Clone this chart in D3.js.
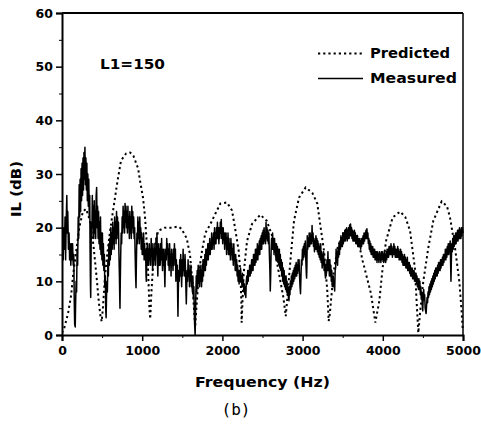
<!DOCTYPE html>
<html>
<head>
<meta charset="utf-8">
<script src="https://cdn.jsdelivr.net/npm/d3@7"></script>
<style>
  body { margin: 0; background: #fff; }
  svg { display: block; }
</style>
</head>
<body>
<svg id="chart" width="481" height="430"></svg>
<script>
// ==================
// DATA (read by eye)
// ==================
var xTicks = [0, 1000, 2000, 3000, 4000, 5000];
var yTicks = [0, 10, 20, 30, 40, 50, 60];
var seriesNames = ["Predicted", "Measured"];

// predicted IL, [Hz, dB]
var predicted = [
  [0,0.4],[30,1.4],[75,4],[115,7.5],[140,11.4],[178,15.7],[215,20],[260,23],[300,23.5],[345,21.5],
  [390,17],[430,11],[460,6],[480,3.5],[495,2.5],[510,5],[536,11],[560,14.5],[600,19.5],[640,23.5],
  [690,28.5],[736,32.5],[798,33.8],[850,34],[890,33.4],[950,31],[970,29],[1010,25.6],[1035,22],[1055,17.5],
  [1075,11.4],[1090,5],[1100,3],[1115,8],[1140,14],[1170,17.5],[1200,19.4],[1280,20],[1368,20],[1450,20.2],
  [1490,19.8],[1555,18],[1596,15],[1625,10],[1645,5],[1660,1.5],[1680,6],[1700,10],[1720,13],[1746,15.7],
  [1787,19],[1845,20.5],[1912,22.6],[1975,24.5],[2057,24.7],[2120,23.2],[2157,20],[2203,15.7],[2225,11.4],[2236,6.4],
  [2240,2.3],[2250,6],[2265,11.4],[2307,17.5],[2370,20.7],[2473,22.4],[2552,21.3],[2620,18.5],[2677,13.8],[2760,7],
  [2790,3.5],[2810,7],[2851,14.4],[2893,21.3],[2955,25.6],[3038,27.5],[3121,26.5],[3183,24.5],[3225,20],[3267,15.7],
  [3308,8.2],[3325,2.6],[3340,4],[3354,6.4],[3390,12],[3440,16.5],[3520,19.5],[3600,20],[3680,18.5],[3749,13.8],
  [3790,11.4],[3853,7.7],[3907,2.3],[3957,6.4],[3998,12.5],[4040,17.5],[4123,21.9],[4215,23],[4280,22],[4340,19.4],
  [4400,12.5],[4430,3.9],[4443,0.4],[4470,5],[4505,10],[4568,16.3],[4630,21.3],[4734,24.9],[4800,24],[4838,21.9],
  [4900,16.3],[4954,10],[4980,5],[4996,1.1]
];

// measured IL, [Hz, dB]
var measured = [
  [0,13],[8,17],[15,14],[22,20],[30,16],[38,22],[45,14],[52,21],[60,26],[66,19],[72,23],[80,16],[88,19],[95,14],[102,17],
  [110,13],[118,17],[125,14],[132,17],[140,13],[147,15],[153,6],[158,2],[165,1.5],[170,6],[176,10],[182,8],[188,16],[195,13],
  [202,22],[208,18],[214,28],[220,22],[226,29],[232,23],[238,31],[244,25],[250,32],[256,26],[262,33],[268,27],[274,34],
  [280,29],[286,35],[292,28],[298,33],[304,27],[310,32],[316,25],[322,30],[328,24],[334,29],[340,22],[346,26],[350,16],
  [355,9],[358,7],[362,14],[366,21],[372,18],[378,26],[384,20],[390,24],[396,18],[402,25],[408,19],[414,23],[420,18],
  [426,26],[432,27.5],[438,20],[444,24],[450,18],[456,23],[462,17],[468,21],[474,16],[480,22],[486,15],[492,19],[498,14],
  [504,19],[510,13],[516,17],[522,12],[528,15],[534,9],[540,11],[545,5],[550,3.2],[555,7],[560,10],[566,8],[572,14],
  [578,11],[584,17],[590,13],[596,18],[602,14],[608,20],[614,15],[620,19],[626,16],[632,21],[638,17],[644,20],[650,16],
  [656,22],[662,18],[668,21],[674,17],[680,23],[686,18],[692,22],[698,19],[704,21],[710,15],[716,11],[720,7],[723,5],
  [727,10],[732,15],[738,19],[744,17],[750,22],[756,19],[762,24],[768,20],[774,23],[780,19],[786,24.5],[792,21],[798,24],
  [804,20],[810,23],[816,19],[822,24],[828,20],[834,22],[840,18],[846,23],[852,19],[858,22],[864,18],[870,24],[876,20],
  [882,23],[888,19],[894,22],[900,18],[906,20],[912,15],[918,11],[923,8.8],[928,14],[934,19],[940,17],[946,22],[952,18],
  [958,21],[964,17],[970,22],[976,18],[982,20],[988,16],[994,19],[1000,15],[1006,18],[1012,15],[1018,19],[1024,14],[1030,17],
  [1036,14],[1042,16],[1048,11],[1052,10],[1058,15],[1064,17],[1070,13],[1076,16],[1082,13],[1088,17],[1094,14],[1100,16],
  [1106,13],[1112,18],[1118,15],[1124,17],[1130,12],[1136,16],[1142,13],[1148,17],[1154,14],[1160,16],[1166,13],[1172,18],
  [1178,15],[1184,19],[1190,14],[1195,11],[1200,15],[1206,17],[1212,13],[1218,16],[1224,13],[1230,17],[1236,14],[1242,18],
  [1248,14],[1254,12],[1260,16],[1266,13],[1272,16],[1278,12],[1283,9],[1288,13],[1294,16],[1300,14],[1306,18],[1312,15],
  [1318,17],[1324,13],[1330,16],[1336,12],[1342,17],[1348,13],[1354,15],[1360,11],[1366,16],[1372,13],[1378,15],[1384,12],
  [1390,16],[1396,13],[1402,17],[1408,14],[1414,16],[1420,10],[1426,14],[1432,11],[1438,13],[1443,6],[1446,3.5],[1450,8],
  [1456,12],[1462,10],[1468,14],[1474,11],[1480,15],[1486,12],[1492,9],[1498,14],[1504,11],[1510,16],[1516,12],[1522,14],
  [1528,11],[1534,15],[1540,12],[1546,8],[1550,5.8],[1555,9],[1560,12],[1566,10],[1572,14],[1578,11],[1584,13],[1590,9],
  [1596,12],[1602,10],[1608,13],[1614,9],[1620,11],[1626,8],[1632,11],[1638,7],[1644,9],[1650,4],[1655,1.5],[1660,0],
  [1664,3],[1668,7],[1674,11],[1680,8],[1686,12],[1692,9],[1698,13],[1704,10],[1710,12],[1716,9],[1722,13],[1728,10],
  [1734,12],[1740,9],[1746,13],[1752,10],[1758,14],[1764,11],[1770,14],[1776,12],[1782,15],[1788,12],[1794,16],[1800,13],
  [1806,16],[1812,14],[1818,17],[1824,14],[1830,17],[1836,15],[1842,18],[1848,15],[1854,17],[1860,16],[1866,19],[1872,16],
  [1878,18],[1884,17],[1890,19],[1896,16],[1902,20],[1908,17],[1914,19],[1920,17],[1926,20],[1932,18],[1938,21],[1944,18],
  [1950,20],[1956,17],[1962,20],[1968,18],[1974,21],[1980,19],[1986,21.5],[1992,18],[1998,20],[2004,17],[2010,20],[2016,18],
  [2022,19],[2028,16],[2034,19],[2040,17],[2046,19],[2052,15],[2058,18],[2064,16],[2070,19],[2076,15],[2082,18],[2088,15],
  [2094,17],[2100,14],[2106,18],[2112,15],[2118,17],[2124,14],[2130,16],[2136,13],[2142,17],[2148,14],[2154,15],[2160,12],
  [2166,15],[2172,12],[2178,14],[2184,11],[2190,13],[2196,10],[2202,12],[2208,9.5],[2214,12],[2220,10],[2226,12.5],[2232,10],
  [2238,11],[2244,9],[2250,11.5],[2256,9],[2262,10],[2268,8],[2274,9.5],[2280,7.5],[2286,9],[2292,7],[2298,10],[2304,11],
  [2310,9.5],[2316,12],[2322,10],[2328,12],[2334,11],[2340,13],[2346,11],[2352,13],[2358,11.5],[2364,14],[2370,12],[2376,14],
  [2382,12],[2388,15],[2394,13],[2400,15],[2406,13],[2412,16],[2418,13.5],[2424,16],[2430,14],[2436,17],[2442,14],[2448,16.5],
  [2454,15],[2460,17.5],[2466,15],[2472,18],[2478,16],[2484,18.5],[2490,16],[2496,19],[2502,17],[2508,19.5],[2514,17],[2520,20],
  [2526,17.5],[2532,19],[2538,17],[2544,21],[2550,18],[2556,20],[2562,17.5],[2568,19.5],[2574,17],[2580,19],[2586,15],[2592,12],
  [2597,8.2],[2602,11],[2608,16],[2614,18],[2620,16],[2626,19],[2632,16],[2638,18],[2644,15],[2650,18],[2656,15.5],[2662,17],
  [2668,14],[2674,17],[2680,14],[2686,16.5],[2692,13.5],[2698,16],[2704,13],[2710,16],[2716,12.5],[2722,15],[2728,12],[2734,14],
  [2740,11],[2746,13.5],[2752,10],[2758,12.5],[2764,9.5],[2770,12],[2776,9],[2782,11],[2788,8.5],[2794,11],[2800,8],[2806,10],
  [2812,7.5],[2818,9],[2824,6.8],[2830,6.4],[2836,9],[2842,7.5],[2848,10],[2854,8.5],[2860,11],[2866,9],[2872,11.5],[2878,9.5],
  [2884,12],[2890,10],[2896,12.5],[2902,10.5],[2908,13],[2914,11],[2920,13.5],[2926,11],[2932,13],[2938,11.5],[2944,14],[2950,12],
  [2956,14],[2962,11],[2968,9],[2974,7.7],[2980,11],[2986,14],[2992,13],[2998,16],[3004,14],[3010,16.5],[3016,14.5],[3022,17],
  [3028,15],[3034,17.5],[3040,14],[3046,11.5],[3050,10.6],[3054,13],[3058,18.5],[3064,16],[3070,18],[3076,16.5],[3082,19],[3088,16.5],[3094,19],
  [3100,17],[3106,18.5],[3112,17],[3118,20.4],[3124,17.5],[3130,19],[3136,16.5],[3142,18],[3148,15.5],[3154,17.5],[3160,16],[3166,18.5],
  [3172,16],[3178,18],[3184,15.5],[3190,17.5],[3196,15],[3202,17],[3208,14.5],[3214,16.5],[3220,14],[3226,17],[3232,13.5],[3238,15.5],
  [3244,12.5],[3250,15],[3256,13],[3262,15.5],[3268,12],[3274,14],[3280,11.5],[3286,10.6],[3292,13],[3298,11.5],[3304,14],[3310,12],
  [3316,15.5],[3322,12],[3328,14],[3334,11],[3340,14],[3346,11],[3352,13],[3358,10],[3364,12],[3370,9],[3376,10],[3382,11],
  [3388,9],[3394,10],[3400,8.2],[3406,12],[3412,12.5],[3418,16],[3424,13.5],[3430,15.5],[3436,13],[3442,16],[3448,14.5],[3454,17],
  [3460,15],[3466,17.5],[3472,16],[3478,18.5],[3484,16.5],[3490,18],[3496,16.5],[3502,19],[3508,17],[3514,19],[3520,17.5],[3526,19.5],
  [3532,17.5],[3538,19.5],[3544,18],[3550,20],[3556,17.5],[3562,19.5],[3568,18],[3574,20],[3580,18],[3586,20.5],[3592,18.5],[3598,20.7],
  [3604,18.5],[3610,20],[3616,18],[3622,19.5],[3628,17.5],[3634,19],[3640,17.5],[3646,19.5],[3652,17.5],[3658,19],[3664,17],[3670,18.5],
  [3676,17],[3682,18.5],[3688,16.5],[3694,18],[3700,16.5],[3706,18],[3712,16.5],[3718,17.5],[3724,16],[3730,18],[3736,16.5],[3742,18],
  [3748,17],[3754,18.5],[3760,17],[3766,19],[3772,17.5],[3778,19],[3784,18],[3790,19.5],[3796,18],[3802,19.8],[3808,18],[3814,19],
  [3820,17],[3826,18],[3832,16],[3838,17.5],[3844,15.5],[3850,17],[3856,15],[3862,16.5],[3868,15],[3874,16.5],[3880,14.5],[3886,16],
  [3892,14.5],[3898,16],[3904,14],[3910,15.5],[3916,14],[3922,15.5],[3928,13.5],[3934,15.5],[3940,14],[3946,15],[3952,13.5],[3958,15.5],
  [3964,14],[3970,15],[3976,13.5],[3982,15.5],[3988,14],[3994,15.5],[4000,14],[4006,15],[4012,13.5],[4018,15.5],[4024,14],[4030,15],
  [4036,13.5],[4042,15.5],[4048,14],[4054,16],[4060,14.5],[4066,16],[4072,14.5],[4078,16.5],[4084,15],[4090,16.5],[4096,15],[4102,17],
  [4108,15],[4114,16.5],[4120,14.5],[4126,16],[4132,15],[4138,17],[4144,15],[4150,16.5],[4156,14.5],[4162,16],[4168,14.5],[4174,16],
  [4180,14.5],[4186,16.5],[4192,14.5],[4198,16],[4204,14],[4210,15.5],[4216,14],[4222,16],[4228,14],[4234,15.5],[4240,13.5],[4246,15],
  [4252,13],[4258,14.5],[4264,13],[4270,15],[4276,13],[4282,14.5],[4288,12.5],[4294,14],[4300,12.5],[4306,14.5],[4312,12],[4318,13.5],
  [4324,12],[4330,13.5],[4336,11.5],[4342,13],[4348,11],[4354,12.5],[4360,11],[4366,12.5],[4372,10.5],[4378,12],[4384,10.5],[4390,12],
  [4396,10],[4402,11.5],[4408,10],[4414,11.5],[4420,9.5],[4426,11],[4432,9],[4438,10.5],[4444,8.5],[4450,10.5],[4456,8.5],[4462,10],
  [4468,7.5],[4474,9],[4480,7],[4486,8],[4492,5.5],[4498,4.5],[4504,7],[4510,8.5],[4516,6.5],[4522,7.5],[4528,5],[4534,4.5],
  [4540,4],[4546,5.5],[4552,7],[4558,6],[4564,8],[4570,7],[4576,9],[4582,7.5],[4588,9.5],[4594,8],[4600,10],[4606,8.5],
  [4612,10.5],[4618,9],[4624,11],[4630,9.5],[4636,11.5],[4642,10],[4648,12],[4654,10.5],[4660,12.5],[4666,11],[4672,12.5],[4678,11],
  [4684,13],[4690,11.5],[4696,13.5],[4702,12],[4708,13.5],[4714,12],[4720,14],[4726,12.5],[4732,14],[4738,13],[4744,14.5],[4750,13],
  [4756,15],[4762,13.5],[4768,15],[4774,14],[4780,16],[4786,14],[4792,16],[4798,14.5],[4804,16.5],[4810,15],[4816,17],[4822,15],
  [4828,17],[4834,15.5],[4840,17.5],[4846,13],[4850,10],[4855,14],[4860,17],[4866,15.5],[4872,18],[4878,16],[4884,18.5],[4890,16.5],
  [4896,18.5],[4902,17],[4908,19],[4914,17],[4920,19],[4926,17.5],[4932,19.5],[4938,17.5],[4944,19.5],[4950,18],[4956,20],[4962,18],
  [4968,19.5],[4974,18],[4980,20],[4986,18.5],[4992,20],[5000,19]
];

// ########
// # MAIN #
// ########
var svg = d3.select("#chart");
var margin = { left: 62, top: 13, right: 18, bottom: 95 };
var width = 481 - margin.left - margin.right,
  height = 430 - margin.top - margin.bottom;

var x = d3.scaleLinear().domain([0, 5000]).range([0, width]);
var y = d3.scaleLinear().domain([0, 60]).range([height, 0]);

var g = svg.append("g")
  .attr("transform", "translate(" + margin.left + "," + margin.top + ")");

g.append("clipPath").attr("id", "plotclip")
  .append("rect").attr("x", 0).attr("y", -1).attr("width", width + 1).attr("height", height + 2);

var tickFont = "'DejaVu Sans', sans-serif";

// minor ticks
g.append("g")
  .attr("transform", "translate(0," + height + ")")
  .call(d3.axisBottom(x).tickValues(d3.range(500, 5000, 1000)).tickSize(3).tickFormat(""))
  .call(function (a) { a.select(".domain").remove(); });
g.append("g")
  .call(d3.axisLeft(y).tickValues(d3.range(5, 60, 10)).tickSize(3).tickFormat(""))
  .call(function (a) { a.select(".domain").remove(); });

// major axes
var xAxis = g.append("g")
  .attr("transform", "translate(0," + height + ")")
  .call(d3.axisBottom(x).tickValues(xTicks).tickSize(6).tickPadding(5).tickFormat(d3.format("d")));
var yAxis = g.append("g")
  .call(d3.axisLeft(y).tickValues(yTicks).tickSize(6).tickPadding(3).tickFormat(d3.format("d")));

[xAxis, yAxis].forEach(function (a) {
  a.select(".domain").attr("stroke-width", 2);
  a.selectAll(".tick line").attr("stroke-width", 1.5);
  a.selectAll("text")
    .attr("font-family", tickFont)
    .attr("font-weight", "bold")
    .attr("font-size", 12.5)
    .attr("fill", "#000");
});

// frame (top + right)
g.append("line").attr("x1", 0).attr("x2", width).attr("y1", 0).attr("y2", 0)
  .attr("stroke", "#000").attr("stroke-width", 2);
g.append("line").attr("x1", width).attr("x2", width).attr("y1", 0).attr("y2", height)
  .attr("stroke", "#000").attr("stroke-width", 1.5);

// lines
var line = d3.line()
  .x(function (d) { return x(d[0]); })
  .y(function (d) { return y(d[1]); });

var plot = g.append("g").attr("clip-path", "url(#plotclip)");

plot.append("path")
  .datum(predicted)
  .attr("fill", "none")
  .attr("stroke", "#000")
  .attr("stroke-width", 2)
  .attr("stroke-dasharray", "2.2,3")
  .attr("d", line);

plot.append("path")
  .datum(measured)
  .attr("fill", "none")
  .attr("stroke", "#000")
  .attr("stroke-width", 1.5)
  .attr("stroke-linejoin", "round")
  .attr("d", line);

// legend
var legend = g.append("g");
var legendRows = [
  { name: seriesNames[0], dash: "2.2,3", ty: 45, len: 80 },
  { name: seriesNames[1], dash: null, ty: 70, len: 87 }
];
legendRows.forEach(function (r) {
  legend.append("line")
    .attr("x1", 256).attr("x2", 301)
    .attr("y1", r.ty - 4.5).attr("y2", r.ty - 4.5)
    .attr("stroke", "#000")
    .attr("stroke-width", r.dash ? 2 : 1.6)
    .attr("stroke-dasharray", r.dash);
  legend.append("text")
    .attr("x", 308).attr("y", r.ty)
    .attr("font-family", tickFont)
    .attr("font-weight", "bold")
    .attr("font-size", 14)
    .attr("textLength", r.len)
    .attr("lengthAdjust", "spacingAndGlyphs")
    .text(r.name);
});

// annotation
g.append("text")
  .attr("x", 38).attr("y", 56)
  .attr("font-family", tickFont)
  .attr("font-weight", "bold")
  .attr("font-size", 14)
  .attr("textLength", 65)
  .attr("lengthAdjust", "spacingAndGlyphs")
  .text("L1=150");

// axis titles
svg.append("text")
  .attr("x", 262.5).attr("y", 387)
  .attr("text-anchor", "middle")
  .attr("font-family", tickFont)
  .attr("font-weight", "bold")
  .attr("font-size", 13.5)
  .attr("textLength", 135)
  .attr("lengthAdjust", "spacingAndGlyphs")
  .text("Frequency (Hz)");

svg.append("text")
  .attr("transform", "translate(21,189) rotate(-90)")
  .attr("text-anchor", "middle")
  .attr("font-family", tickFont)
  .attr("font-weight", "bold")
  .attr("font-size", 13.5)
  .attr("textLength", 56)
  .attr("lengthAdjust", "spacingAndGlyphs")
  .text("IL (dB)");

svg.append("text")
  .attr("x", 236).attr("y", 415)
  .attr("text-anchor", "middle")
  .attr("font-family", "'DejaVu Sans Mono', monospace")
  .attr("font-size", 16)
  .text("(b)");
</script>
</body>
</html>
